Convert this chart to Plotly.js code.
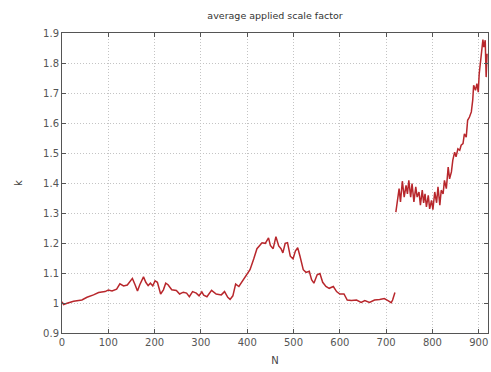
<!DOCTYPE html>
<html>
<head>
<meta charset="utf-8">
<script src="https://cdn.plot.ly/plotly-3.0.1.min.js"></script>
<style>html,body{margin:0;padding:0;background:#fff;}#chart{width:491px;height:372px;}</style>
</head>
<body>
<div id="chart"></div>
<script>
// Segment 1: N and k values (first run)
const n1 = [0,3.5,11,25,43,54,68,79,93,100,108,118,125,133,141,152,158,163,168,176,181,186,191,196,201,206,213,219,224,229,237,247,254,262,269,275,282,290,296,302,306,313,323,333,344,351,358,363,369,375,382,389,399,406,414,421,427,432,439,446,450,456,462,468,473,477,482,487,493,499,504,509,514,521,527,534,539,544,551,557,563,570,577,586,593,600,609,616,625,636,646,654,664,675,686,696,704,711,714,719];
const k1 = [1.004,0.995,0.999,1.006,1.010,1.019,1.027,1.035,1.038,1.043,1.040,1.046,1.064,1.057,1.060,1.082,1.060,1.040,1.061,1.087,1.069,1.058,1.066,1.057,1.074,1.069,1.030,1.044,1.066,1.061,1.044,1.042,1.030,1.036,1.033,1.021,1.038,1.033,1.024,1.037,1.026,1.021,1.042,1.030,1.027,1.038,1.019,1.012,1.024,1.063,1.055,1.072,1.094,1.111,1.147,1.181,1.192,1.201,1.199,1.217,1.192,1.181,1.221,1.190,1.181,1.167,1.199,1.201,1.156,1.147,1.173,1.184,1.156,1.111,1.102,1.106,1.078,1.066,1.094,1.098,1.069,1.055,1.049,1.055,1.038,1.030,1.030,1.010,1.008,1.010,1.002,1.008,1.002,1.010,1.012,1.015,1.008,1.001,1.010,1.035];
// Segment 2: N and k values (second run)
const n2 = [721,724,728,731,735,739,743,746,749,753,756,760,764,767,771,774,778,781,784,787,791,794,798,801,805,809,812,816,819,823,826,830,834,837,841,844,848,851,855,859,862,866,869,873,876,880,884,887,889,893,896,899,901,905,909,911,914,916,918];
const k2 = [1.303,1.337,1.381,1.337,1.406,1.353,1.392,1.364,1.409,1.353,1.398,1.337,1.387,1.353,1.370,1.326,1.376,1.334,1.364,1.320,1.359,1.314,1.342,1.311,1.370,1.334,1.387,1.326,1.376,1.364,1.409,1.381,1.453,1.414,1.437,1.476,1.503,1.487,1.514,1.509,1.526,1.531,1.564,1.553,1.609,1.620,1.637,1.676,1.726,1.709,1.731,1.703,1.764,1.820,1.878,1.853,1.876,1.753,1.831];
const xTicks = [0,100,200,300,400,500,600,700,800,900];
const yTicks = [0.9,1,1.1,1.2,1.3,1.4,1.5,1.6,1.7,1.8,1.9];

const lineColor = '#b8272c';
const fontFam = 'DejaVu Sans';
const fs = 9.5;
const traces = [
  {x: n1, y: k1, mode: 'lines', line: {color: lineColor, width: 1.5}, hoverinfo: 'skip'},
  {x: n2, y: k2, mode: 'lines', line: {color: lineColor, width: 1.5}, hoverinfo: 'skip'}
];
const axisCommon = {
  showline: true, linecolor: '#555', linewidth: 1, mirror: 'allticks',
  ticks: 'inside', ticklen: 4, tickcolor: '#555', tickwidth: 1,
  showgrid: true, gridcolor: '#c4c4c4', griddash: '1px,2px', gridwidth: 1,
  zeroline: false, tickfont: {family: fontFam, size: fs + 0.5, color: '#555'}
};
const layout = {
  width: 491, height: 372,
  margin: {l: 62, r: 3, t: 33, b: 39},
  paper_bgcolor: '#fff', plot_bgcolor: '#fff',
  showlegend: false,
  font: {family: fontFam, size: fs, color: '#444'},
  title: {text: 'average applied scale factor', xref: 'paper', x: 0.5, xanchor: 'center', yref: 'container', y: 0.957, yanchor: 'middle', font: {family: fontFam, size: fs, color: '#333'}},
  xaxis: Object.assign({}, axisCommon, {range: [0, 920], tickvals: xTicks, ticktext: xTicks.map(String),
    title: {text: 'N', standoff: 9, font: {family: fontFam, size: fs + 0.5, color: '#444'}}}),
  yaxis: Object.assign({}, axisCommon, {range: [0.9, 1.9], tickvals: yTicks, ticktext: yTicks.map(String),
    title: {text: 'k', standoff: 18, font: {family: fontFam, size: fs + 0.5, color: '#444'}}})
};
Plotly.newPlot('chart', traces, layout, {staticPlot: true, displayModeBar: false});
</script>
</body>
</html>
